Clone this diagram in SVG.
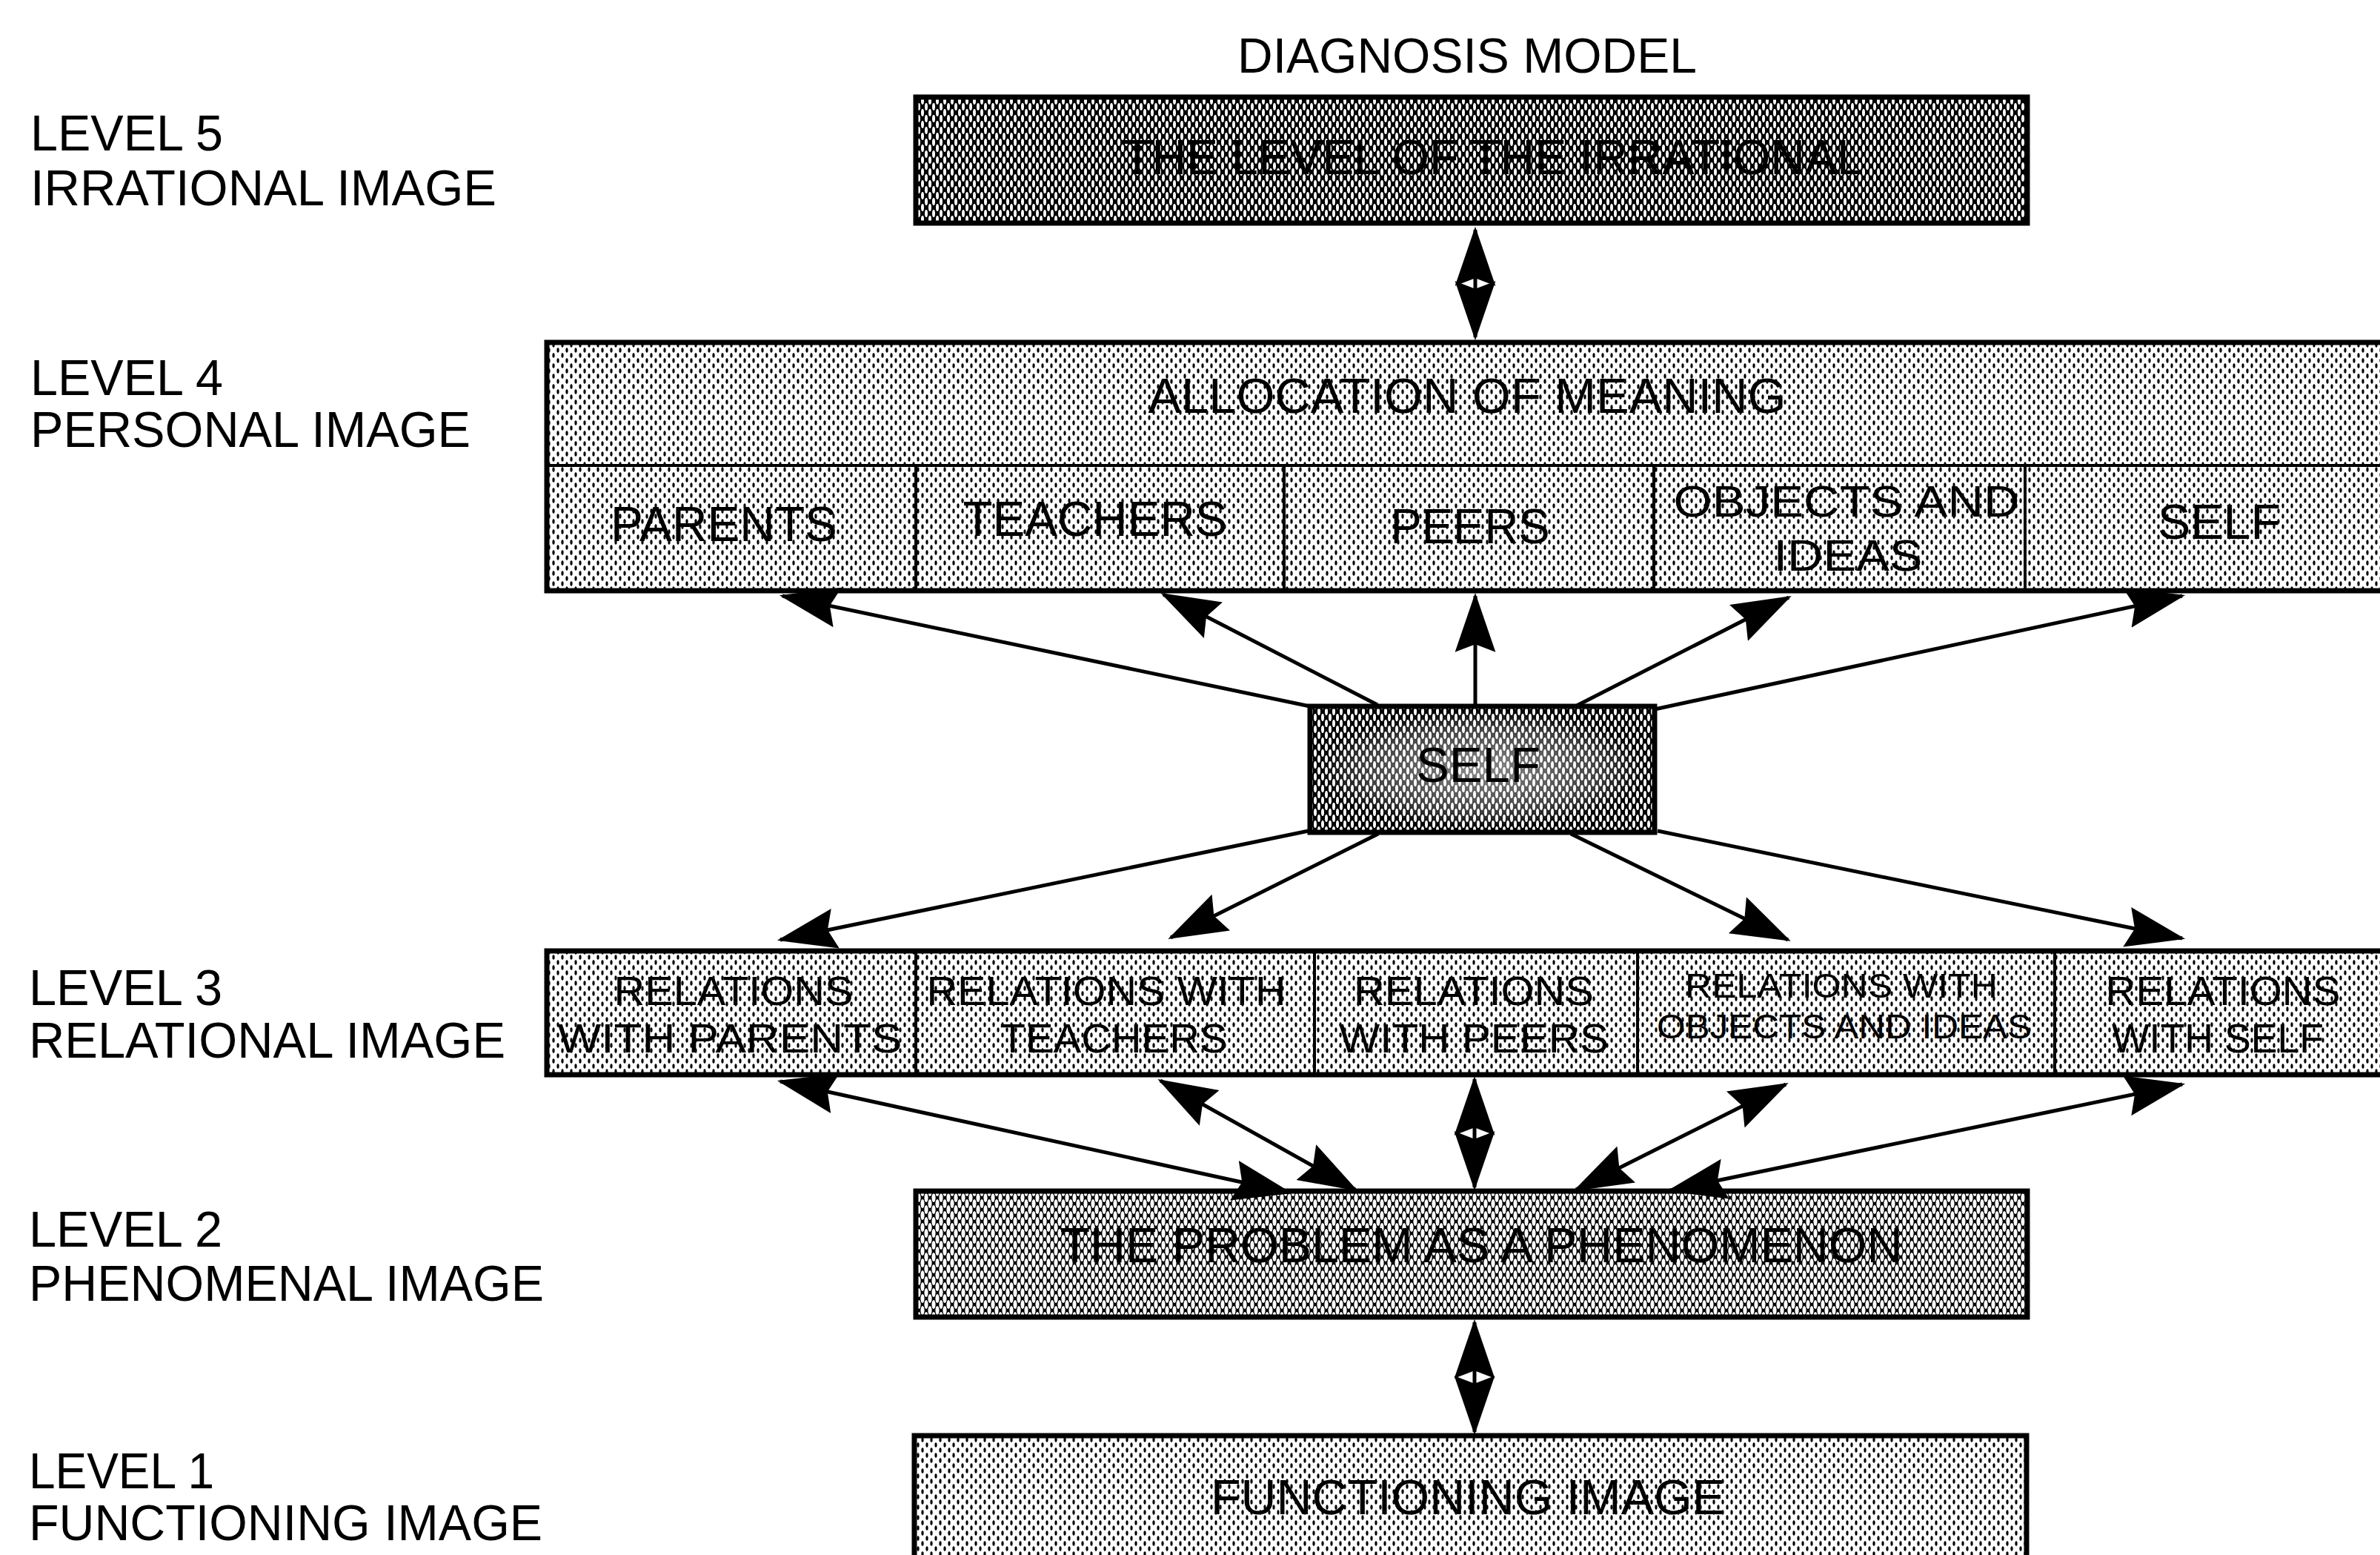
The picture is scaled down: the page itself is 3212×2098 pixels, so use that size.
<svg xmlns="http://www.w3.org/2000/svg" width="3212" height="2098" viewBox="0 0 3212 2098">
<style>
  .lbl { font-family: "Liberation Sans", Arial, sans-serif; font-size: 68px; fill: #000; }
  .bx { font-family: "Liberation Sans", Arial, sans-serif; font-size: 66px; fill: #000; text-anchor: middle; }
  .bx2 { font-family: "Liberation Sans", Arial, sans-serif; font-size: 60px; fill: #000; text-anchor: middle; }
  .bx3 { font-family: "Liberation Sans", Arial, sans-serif; font-size: 56px; fill: #000; text-anchor: middle; }
  .bx3s { font-family: "Liberation Sans", Arial, sans-serif; font-size: 46px; fill: #000; text-anchor: middle; }
  .frame { stroke: #000; stroke-width: 7; }
  .div { stroke: #000; stroke-width: 4; fill: none; }
  .con { stroke: #000; stroke-width: 5; fill: none; }
  .one { marker-end: url(#head); }
  .two { marker-start: url(#head); marker-end: url(#head); }
</style>
<defs>
  <pattern id="lightDots" width="12" height="14" patternUnits="userSpaceOnUse">
    <rect width="12" height="14" fill="#fff"/>
    <ellipse cx="3" cy="3.5" rx="1.6" ry="3.2" fill="#000"/>
    <ellipse cx="9" cy="10.5" rx="1.6" ry="3.2" fill="#000"/>
  </pattern>
  <pattern id="darkHatch" width="10" height="16" patternUnits="userSpaceOnUse">
    <rect width="10" height="16" fill="#000"/>
    <ellipse cx="5" cy="8" rx="2" ry="5" fill="#fff"/>
    <ellipse cx="0" cy="0" rx="2" ry="5" fill="#fff"/>
    <ellipse cx="10" cy="0" rx="2" ry="5" fill="#fff"/>
    <ellipse cx="0" cy="16" rx="2" ry="5" fill="#fff"/>
    <ellipse cx="10" cy="16" rx="2" ry="5" fill="#fff"/>
  </pattern>
  <pattern id="midHatch" width="10" height="16" patternUnits="userSpaceOnUse">
    <rect width="10" height="16" fill="#000"/>
    <ellipse cx="5" cy="8" rx="2.6" ry="6" fill="#fff"/>
    <ellipse cx="0" cy="0" rx="2.6" ry="6" fill="#fff"/>
    <ellipse cx="10" cy="0" rx="2.6" ry="6" fill="#fff"/>
    <ellipse cx="0" cy="16" rx="2.6" ry="6" fill="#fff"/>
    <ellipse cx="10" cy="16" rx="2.6" ry="6" fill="#fff"/>
  </pattern>
  <radialGradient id="selfGlow" cx="0.5" cy="0.5" r="0.5">
    <stop offset="0" stop-color="#fff" stop-opacity="0.55"/>
    <stop offset="0.7" stop-color="#fff" stop-opacity="0.25"/>
    <stop offset="1" stop-color="#fff" stop-opacity="0"/>
  </radialGradient>
  <marker id="head" markerUnits="userSpaceOnUse" markerWidth="80" markerHeight="60" viewBox="0 0 76 56" refX="72" refY="28" orient="auto-start-reverse">
    <path d="M0,2 L76,28 L0,54 L10,28 Z" fill="#000"/>
  </marker>
</defs>

<rect width="3212" height="2098" fill="#fff"/>

<g id="title">
  <text class="bx" x="1980" y="98" textLength="620" lengthAdjust="spacingAndGlyphs">DIAGNOSIS MODEL</text>
</g>

<g id="level-labels">
  <text class="lbl" x="41" y="203" textLength="260" lengthAdjust="spacingAndGlyphs">LEVEL 5</text>
  <text class="lbl" x="41" y="277" textLength="629" lengthAdjust="spacingAndGlyphs">IRRATIONAL IMAGE</text>
  <text class="lbl" x="41" y="533" textLength="260" lengthAdjust="spacingAndGlyphs">LEVEL 4</text>
  <text class="lbl" x="41" y="603" textLength="594" lengthAdjust="spacingAndGlyphs">PERSONAL IMAGE</text>
  <text class="lbl" x="39" y="1356" textLength="261" lengthAdjust="spacingAndGlyphs">LEVEL 3</text>
  <text class="lbl" x="39" y="1427" textLength="643" lengthAdjust="spacingAndGlyphs">RELATIONAL IMAGE</text>
  <text class="lbl" x="39" y="1682" textLength="261" lengthAdjust="spacingAndGlyphs">LEVEL 2</text>
  <text class="lbl" x="39" y="1755" textLength="695" lengthAdjust="spacingAndGlyphs">PHENOMENAL IMAGE</text>
  <text class="lbl" x="39" y="2008" textLength="250" lengthAdjust="spacingAndGlyphs">LEVEL 1</text>
  <text class="lbl" x="39" y="2078" textLength="693" lengthAdjust="spacingAndGlyphs">FUNCTIONING IMAGE</text>
</g>

<g id="level5">
  <rect class="frame" x="1236" y="131" width="1500" height="170" fill="url(#darkHatch)"/>
  <text class="bx" x="2015" y="235" textLength="1000" lengthAdjust="spacingAndGlyphs">THE LEVEL OF THE IRRATIONAL</text>
</g>

<g id="level4">
  <rect class="frame" x="738" y="462" width="2530" height="335" fill="url(#lightDots)"/>
  <line class="div" x1="738" y1="628" x2="3268" y2="628"/>
  <line class="div" x1="1236" y1="628" x2="1236" y2="797"/>
  <line class="div" x1="1733" y1="628" x2="1733" y2="797"/>
  <line class="div" x1="2232" y1="628" x2="2232" y2="797"/>
  <line class="div" x1="2733" y1="628" x2="2733" y2="797"/>
  <text class="bx" x="1980" y="557" textLength="861" lengthAdjust="spacingAndGlyphs">ALLOCATION OF MEANING</text>
  <text class="bx" x="977" y="730" textLength="306" lengthAdjust="spacingAndGlyphs">PARENTS</text>
  <text class="bx" x="1478" y="723" textLength="357" lengthAdjust="spacingAndGlyphs">TEACHERS</text>
  <text class="bx" x="1984" y="733" textLength="215" lengthAdjust="spacingAndGlyphs">PEERS</text>
  <text class="bx2" x="2492" y="697" textLength="467" lengthAdjust="spacingAndGlyphs">OBJECTS AND</text>
  <text class="bx2" x="2494" y="770" textLength="201" lengthAdjust="spacingAndGlyphs">IDEAS</text>
  <text class="bx" x="2995" y="727" textLength="166" lengthAdjust="spacingAndGlyphs">SELF</text>
</g>

<g id="self">
  <rect class="frame" x="1768" y="953" width="465" height="170" fill="url(#darkHatch)"/>
  <rect x="1772" y="957" width="457" height="162" fill="url(#selfGlow)"/>
  <text class="bx" x="1995" y="1055" textLength="168" lengthAdjust="spacingAndGlyphs">SELF</text>
</g>

<g id="level3">
  <rect class="frame" x="738" y="1283" width="2530" height="167" fill="url(#lightDots)"/>
  <line class="div" x1="1236" y1="1283" x2="1236" y2="1450"/>
  <line class="div" x1="1774" y1="1283" x2="1774" y2="1450"/>
  <line class="div" x1="2210" y1="1283" x2="2210" y2="1450"/>
  <line class="div" x1="2773" y1="1283" x2="2773" y2="1450"/>
  <text class="bx3" x="990" y="1356" textLength="323" lengthAdjust="spacingAndGlyphs">RELATIONS</text>
  <text class="bx3" x="985" y="1420" textLength="465" lengthAdjust="spacingAndGlyphs">WITH PARENTS</text>
  <text class="bx3" x="1493" y="1356" textLength="485" lengthAdjust="spacingAndGlyphs">RELATIONS WITH</text>
  <text class="bx3" x="1503" y="1420" textLength="307" lengthAdjust="spacingAndGlyphs">TEACHERS</text>
  <text class="bx3" x="1989" y="1356" textLength="324" lengthAdjust="spacingAndGlyphs">RELATIONS</text>
  <text class="bx3" x="1989" y="1420" textLength="364" lengthAdjust="spacingAndGlyphs">WITH PEERS</text>
  <text class="bx3s" x="2485" y="1346" textLength="422" lengthAdjust="spacingAndGlyphs">RELATIONS WITH</text>
  <text class="bx3s" x="2489" y="1401" textLength="506" lengthAdjust="spacingAndGlyphs">OBJECTS AND IDEAS</text>
  <text class="bx3" x="3000" y="1356" textLength="317" lengthAdjust="spacingAndGlyphs">RELATIONS</text>
  <text class="bx3" x="2993" y="1420" textLength="286" lengthAdjust="spacingAndGlyphs">WITH SELF</text>
</g>

<g id="level2">
  <rect class="frame" x="1236" y="1607" width="1500" height="170" fill="url(#midHatch)"/>
  <text class="bx" x="1999" y="1703" textLength="1137" lengthAdjust="spacingAndGlyphs">THE PROBLEM AS A PHENOMENON</text>
</g>

<g id="level1">
  <rect class="frame" x="1234" y="1937" width="1501" height="220" fill="url(#lightDots)"/>
  <text class="bx" x="1981" y="2043" textLength="694" lengthAdjust="spacingAndGlyphs">FUNCTIONING IMAGE</text>
</g>

<g id="connectors">
  <path class="con two" d="M1991,310 L1991,455"/>
  <path class="con one" d="M1768,953 L1056,804"/>
  <path class="con one" d="M1859,951 L1570,802"/>
  <path class="con one" d="M1991,953 L1991,804"/>
  <path class="con one" d="M2126,953 L2414,806"/>
  <path class="con one" d="M2233,957 L2945,804"/>
  <path class="con one" d="M1766,1121 L1053,1268"/>
  <path class="con one" d="M1860,1125 L1580,1265"/>
  <path class="con one" d="M2120,1125 L2413,1268"/>
  <path class="con one" d="M2237,1121 L2945,1266"/>
  <path class="con two" d="M1053,1459 L1740,1609"/>
  <path class="con two" d="M1566,1458 L1829,1605"/>
  <path class="con two" d="M1990,1456 L1990,1602"/>
  <path class="con two" d="M2410,1463 L2127,1605"/>
  <path class="con two" d="M2945,1463 L2254,1606"/>
  <path class="con two" d="M1990,1784 L1990,1932"/>
</g>
</svg>
